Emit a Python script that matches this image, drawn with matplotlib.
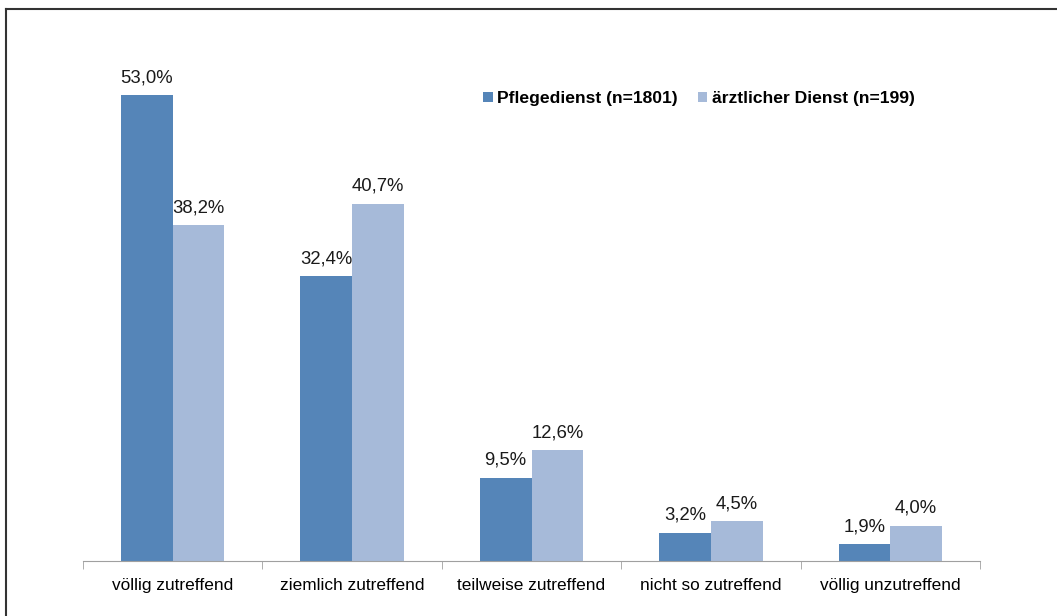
import matplotlib
matplotlib.use("Agg")
import matplotlib.pyplot as plt
import numpy as np
from matplotlib.lines import Line2D

plt.rcParams['font.family'] = ['Liberation Sans', 'DejaVu Sans']

categories = ["völlig zutreffend", "ziemlich zutreffend", "teilweise zutreffend",
              "nicht so zutreffend", "völlig unzutreffend"]
pflege = [53.0, 32.4, 9.5, 3.2, 1.9]
aerzte = [38.2, 40.7, 12.6, 4.5, 4.0]
series_names = ["Pflegedienst (n=1801)", "ärztlicher Dienst (n=199)"]
colors = ["#5585B8", "#A6BAD9"]

W, H = 1057, 616
fig = plt.figure(figsize=(W/100, H/100), dpi=100)
ax = fig.add_axes([83/W, 1-561/H, (980-83)/W, (561-34)/H])

x = np.arange(len(categories))
bw = 0.288
b1 = ax.bar(x - bw/2, pflege, bw, color=colors[0], label=series_names[0])
b2 = ax.bar(x + bw/2, aerzte, bw, color=colors[1], label=series_names[1])

for bars, vals in ((b1, pflege), (b2, aerzte)):
    for r, v in zip(bars, vals):
        ax.annotate(f"{v:.1f}%".replace(".", ","), (r.get_x() + r.get_width()/2, v),
                    xytext=(0, 6.5), textcoords="offset points", ha="center", va="bottom",
                    fontsize=13.3, color="#1a1a1a")

ax.set_xlim(-0.5, len(categories) - 0.5)
ax.set_ylim(0, 60)
ax.set_yticks([])
for s in ("left", "right", "top"):
    ax.spines[s].set_visible(False)
ax.spines["bottom"].set_color("#A0A0A0")
ax.set_xticks(x)
ax.set_xticklabels(categories, fontsize=12.4)
ax.tick_params(axis="x", length=0, pad=12)
ax.set_xticks(np.arange(-0.5, len(categories)), minor=True)
ax.tick_params(axis="x", which="minor", length=6, color="#A0A0A0")

ax.legend(loc="upper left", bbox_to_anchor=((476-83)/(980-83), (561-84)/(561-34)),
          ncol=2, frameon=False, prop={"weight": "bold", "size": 12.6},
          handlelength=0.55, handleheight=0.55, handletextpad=0.25, columnspacing=1.15,
          borderaxespad=0)

# figure border on top and left
fig.add_artist(Line2D([6/W, 6/W], [0, 1-9/H], transform=fig.transFigure, color="#333333", lw=1.5))
fig.add_artist(Line2D([6/W, 1], [1-9/H, 1-9/H], transform=fig.transFigure, color="#333333", lw=1.5))

fig.savefig("out.png", dpi=100)
